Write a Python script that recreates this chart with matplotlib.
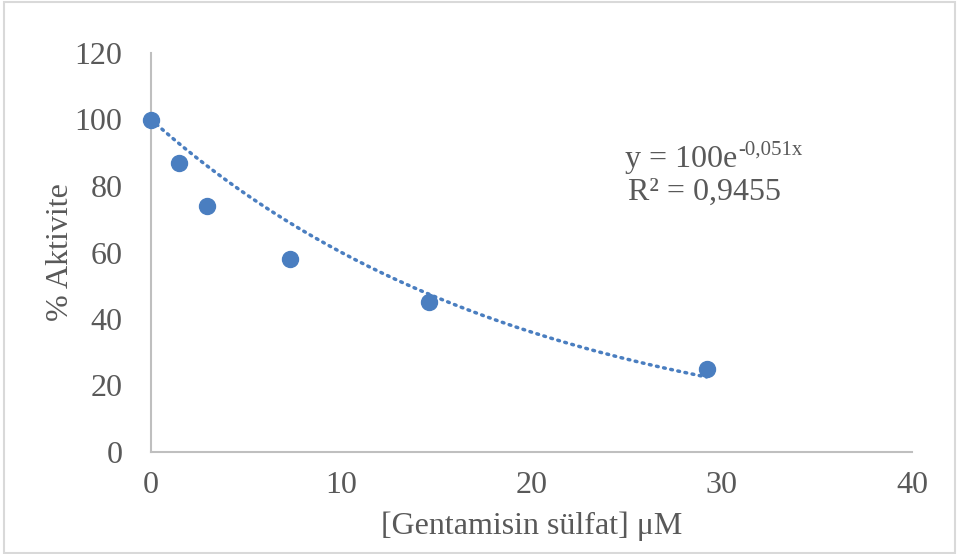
import numpy as np
import matplotlib
matplotlib.use("Agg")
import matplotlib.pyplot as plt
from matplotlib.patches import Rectangle

plt.rcParams['font.family'] = ['Liberation Serif', 'DejaVu Serif']

# Data
conc = [0, 1.46, 2.92, 7.3, 14.6, 29.2]
activity = [100, 87, 74, 58, 45, 25]
fit_a = 100
fit_b = -0.051
x_ticks = [0, 10, 20, 30, 40]
y_ticks = [0, 20, 40, 60, 80, 100, 120]
eq_base = "y = 100e"
eq_sup = "-0,051x"
r2_text = "R² = 0,9455"
xlabel = "[Gentamisin sülfat] μM"
ylabel = "% Aktivite"

txt = '#595959'
blue = '#4A7EC0'

fig = plt.figure(figsize=(9.59, 5.54), dpi=100)
ax = fig.add_axes([151/959, 1-452/554, (912-151)/959, (452-53)/554])

xf = np.linspace(min(conc), max(conc), 200)
ax.plot(xf, fit_a*np.exp(fit_b*xf), linestyle=(0, (0.5, 1.6)), color=blue,
        lw=2.5, dash_capstyle='round', zorder=2)
ax.plot(conc, activity, 'o', color=blue, markersize=11.5, zorder=3, clip_on=False)

ax.set_xlim(0, 40)
ax.set_ylim(0, 120)
ax.set_xticks(x_ticks)
ax.set_yticks(y_ticks)
ax.tick_params(length=0, labelsize=23, colors=txt, pad=14)
ax.tick_params(axis='y', pad=20.5)
for s in ['top', 'right']:
    ax.spines[s].set_visible(False)
for s in ['left', 'bottom']:
    ax.spines[s].set_color('#BFBFBF')
    ax.spines[s].set_linewidth(1.5)

ax.set_xlabel(xlabel, fontsize=23, color=txt, labelpad=8)
ax.set_ylabel(ylabel, fontsize=23, color=txt, labelpad=0)

fig.text(737/959, 1-167/554, eq_base, fontsize=23, color=txt, ha='right', va='baseline')
fig.text(738/959, 1-155/554, eq_sup, fontsize=15, color=txt, ha='left', va='baseline')
fig.text(705/959, 1-192/554, r2_text, fontsize=23, color=txt, ha='center', va='center')

fig.patches.append(Rectangle((4/959, 1/554), 1-8/959, 1-3/554, transform=fig.transFigure,
                             fill=False, edgecolor='#D9D9D9', lw=1.5))

fig.savefig('out.png', dpi=100)
